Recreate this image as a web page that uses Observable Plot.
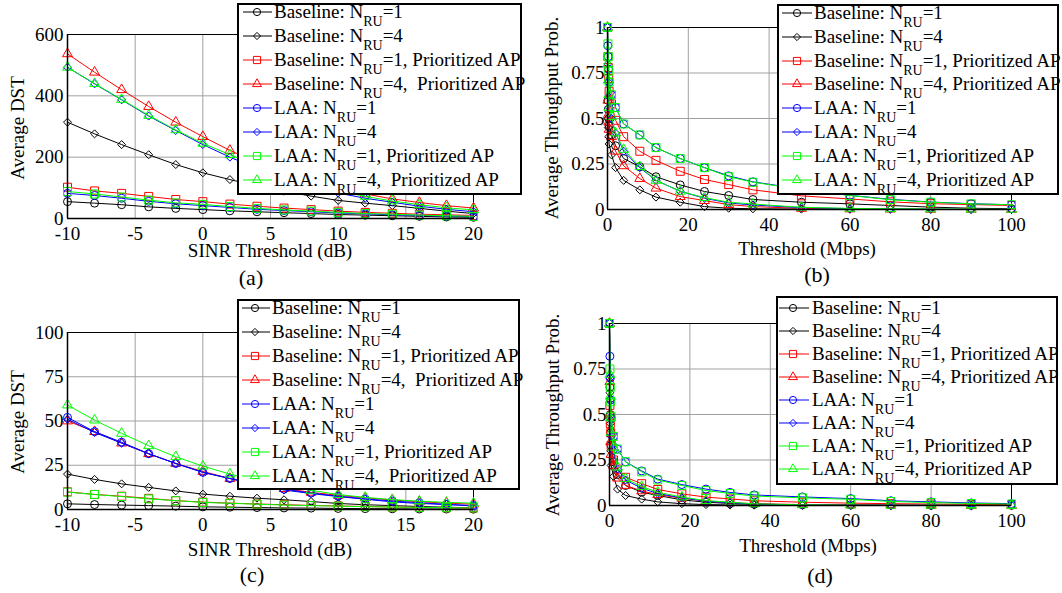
<!DOCTYPE html>
<html><head><meta charset="utf-8">
<script src="https://cdn.jsdelivr.net/npm/d3@7"></script>
<script src="https://cdn.jsdelivr.net/npm/@observablehq/plot@0.6"></script>
<style>
body{margin:0;background:#fff;}
#root{position:relative;width:1062px;height:593px;overflow:hidden;font-family:'Liberation Serif','Times New Roman',serif;color:#000;background:#fff;}
.panel{position:absolute;}
.panel svg text{font-family:'Liberation Serif','Times New Roman',serif !important;font-size:19px !important;fill:#000;}
.lbl{position:absolute;font-size:19px;line-height:1;white-space:nowrap;transform:translate(-50%,-50%);}
.cap{position:absolute;font-size:22px;line-height:1;white-space:nowrap;transform:translate(-50%,-50%);}
.ylbl{position:absolute;font-size:19px;line-height:1;white-space:nowrap;transform:translate(-50%,-50%) rotate(-90deg);}
.legend{position:absolute;background:#fff;border:2px solid #000;box-sizing:border-box;}
.row{position:absolute;left:0;height:24px;width:100%;}
.row svg{position:absolute;top:0;}
.row .t{position:absolute;top:0;line-height:24px;font-size:19px;white-space:pre;}
.sub{font-size:14px;position:relative;top:8px;}
</style>
</head><body>
<div id="root"></div>
<script>
// ---------- data ----------
const xSinr = [-10,-8,-6,-4,-2,0,2,4,6,8,10,12,14,16,18,20];
const xThr = [0,0.1,0.2,0.3,0.4,1,2,4,8,12,18,24,30,36,48,60,70,80,90,100];

const seriesPrefix = ["Baseline: N","Baseline: N","Baseline: N","Baseline: N","LAA: N","LAA: N","LAA: N","LAA: N"];
const suffixAC = ["=1","=4","=1, Prioritized AP","=4,  Prioritized AP","=1","=4","=1, Prioritized AP","=4,  Prioritized AP"];
const suffixBD = ["=1","=4","=1, Prioritized AP","=4, Prioritized AP","=1","=4","=1, Prioritized AP","=4, Prioritized AP"];
const seriesColors = ["#000000","#000000","#ff0000","#ff0000","#0000ff","#0000ff","#00ff00","#00ff00"];
const seriesSymbols = ["circle","diamond2","square","triangle","circle","diamond2","square","triangle"];

// (a) Average DST vs SINR threshold
const aBaseN1  = [55,50,45,38,33,29,25,22,19,16,13,11,9,7,5,4];
const aBaseN4  = [314,276,241,208,176,149,127,106,89,73,59,50,42,33,24,16];
const aBaseN1P = [102,90,82,72,62,55,47,40,34,29,24,20,17,14,12,10];
const aBaseN4P = [537,477,420,365,314,267,222,183,150,122,99,80,64,52,42,34];
const aLaaN1   = [82,75,66,56,48,42,36,30,26,22,18,15,12,10,8,6];
const aLaaN4   = [493,439,387,334,287,241,200,163,132,105,83,66,53,40,30,22];
const aLaaN1P  = [88,80,70,60,51,46,39,33,28,24,20,16,14,11,9,7];
const aLaaN4P  = [493,440,388,336,289,245,208,172,140,113,90,72,57,45,35,28];

// (b) Average throughput prob. vs threshold
const bBaseN1  = [1.0,0.6,0.55,0.5,0.46,0.41,0.35,0.28,0.235,0.18,0.135,0.099,0.077,0.055,0.04,0.031,0.022,0.013,0.007,0.004];
const bBaseN4  = [1.0,0.5,0.45,0.4,0.36,0.3,0.23,0.16,0.108,0.068,0.04,0.016,0.007,0.004,0.002,0.001,0.001,0,0,0];
const bBaseN1P = [1.0,0.84,0.78,0.72,0.65,0.58,0.49,0.40,0.32,0.27,0.21,0.165,0.137,0.108,0.075,0.058,0.042,0.032,0.027,0.022];
const bBaseN4P = [1.0,0.6,0.52,0.48,0.44,0.40,0.32,0.24,0.17,0.117,0.071,0.049,0.027,0.016,0.006,0.003,0.002,0.001,0.001,0];
const bLaaN1   = [1.0,0.9,0.84,0.77,0.7,0.63,0.56,0.47,0.41,0.34,0.28,0.23,0.185,0.152,0.112,0.078,0.056,0.041,0.032,0.026];
const bLaaN4   = [1.0,0.8,0.7,0.62,0.56,0.5,0.42,0.32,0.23,0.16,0.10,0.062,0.036,0.025,0.01,0.005,0.003,0.002,0.001,0.001];
const bLaaN1P  = [1.0,0.91,0.84,0.76,0.7,0.63,0.56,0.47,0.41,0.34,0.28,0.23,0.18,0.15,0.11,0.077,0.054,0.04,0.031,0.026];
const bLaaN4P  = [1.0,0.8,0.71,0.63,0.56,0.51,0.42,0.33,0.235,0.16,0.10,0.065,0.04,0.03,0.012,0.006,0.004,0.003,0.002,0.001];

// (c) Average DST vs SINR threshold
const cBaseN1  = [3.2,2.8,2.5,2.2,1.9,1.5,1.3,1.1,0.9,0.8,0.6,0.5,0.4,0.3,0.3,0.2];
const cBaseN4  = [20,17,14.5,12.5,10.5,8.7,7.5,6.4,5.5,4.5,3.4,2.7,2.2,1.7,1.3,0.9];
const cBaseN1P = [10,8.5,7.5,6.3,5,4.2,3.6,3.1,2.7,2.3,2,1.7,1.4,1.2,1,0.9];
const cBaseN4P = [50,44,37.5,31.5,26,21.5,17.5,14.5,11.8,9.7,8,6.6,5.4,4.4,3.6,3];
const cLaaN1   = [52,44,38,31.5,26,21,17.5,14,11.5,9.3,7.5,6,4.8,3.8,2.9,2.2];
const cLaaN4   = [51,43.5,37.5,31.5,26,21,17.5,14,11,9,7.3,5.8,4.3,3.4,2.8,2];
const cLaaN1P  = [9.8,8.5,7.3,6,5,4,3.5,3,2.5,2.2,1.9,1.6,1.4,1.2,1,0.9];
const cLaaN4P  = [59,50.5,43,36,29.8,24.5,20,16.5,13.5,10.8,8.5,6.8,5.6,4.7,4,3.6];

// (d) Average throughput prob. vs threshold
const dBaseN1  = [1.0,0.65,0.5,0.4,0.33,0.24,0.17,0.11,0.073,0.055,0.031,0.018,0.011,0.007,0.004,0.003,0.002,0.001,0.001,0.001];
const dBaseN4  = [1.0,0.62,0.45,0.3,0.22,0.16,0.09,0.055,0.035,0.02,0.01,0.005,0.003,0.002,0.001,0,0,0,0,0];
const dBaseN1P = [1.0,0.55,0.45,0.4,0.33,0.25,0.2,0.155,0.12,0.088,0.064,0.046,0.036,0.026,0.018,0.013,0.01,0.008,0.006,0.005];
const dBaseN4P = [1.0,0.68,0.5,0.35,0.28,0.22,0.15,0.11,0.08,0.06,0.04,0.025,0.015,0.01,0.005,0.003,0.002,0.001,0.001,0.001];
const dLaaN1   = [1.0,0.82,0.7,0.58,0.48,0.38,0.31,0.24,0.19,0.145,0.115,0.09,0.072,0.058,0.047,0.038,0.026,0.02,0.014,0.01];
const dLaaN4   = [1.0,0.7,0.58,0.47,0.38,0.3,0.2,0.14,0.095,0.066,0.042,0.024,0.015,0.008,0.003,0.002,0.001,0.001,0,0];
const dLaaN1P  = [1.0,0.75,0.65,0.57,0.49,0.38,0.31,0.24,0.185,0.14,0.11,0.082,0.066,0.052,0.042,0.034,0.022,0.016,0.011,0.008];
const dLaaN4P  = [1.0,0.72,0.6,0.48,0.4,0.32,0.21,0.147,0.104,0.073,0.046,0.027,0.018,0.009,0.004,0.002,0.001,0.001,0.001,0];

const sinrTicks = [-10,-5,0,5,10,15,20];
const thrTicks = [0,20,40,60,80,100];
const dstTicksA = [0,200,400,600];
const dstTicksC = [0,25,50,75,100];
const probTicks = [0,0.25,0.5,0.75,1];

// ---------- drawing ----------
const symR = {circle:4, diamond2:3.6, square:4.5, triangle:3.7};
const d3Sym = {circle:d3.symbolCircle, diamond2:d3.symbolDiamond2, square:d3.symbolSquare, triangle:d3.symbolTriangle};
const root = document.getElementById("root");

function panel(cfg) {
  const marks = [
    Plot.ruleX(cfg.xTicks, {stroke:"#a0a0a0", strokeWidth:1}),
    Plot.ruleY(cfg.yTicks, {stroke:"#a0a0a0", strokeWidth:1}),
    Plot.frame({stroke:"#000", strokeWidth:1})
  ];
  cfg.series.forEach((vals, i) => {
    const rows = cfg.xs.map((x, j) => ({x, y: vals[j]}));
    const col = seriesColors[i], sym = seriesSymbols[i];
    marks.push(Plot.line(rows, {x:"x", y:"y", stroke:col, strokeWidth:1}));
    marks.push(Plot.dot(rows, {x:"x", y:"y", stroke:col, fill:"none", strokeWidth:1, symbol:sym, r:symR[sym]}));
  });
  marks.push(Plot.ruleX([cfg.xDomain[0]], {stroke:"#000", strokeWidth:1.5}));
  marks.push(Plot.ruleY([cfg.yDomain[0]], {stroke:"#000", strokeWidth:1.5}));
  const svg = Plot.plot({
    width: cfg.w, height: cfg.h,
    marginLeft: cfg.ml, marginRight: cfg.mr, marginTop: cfg.mt, marginBottom: cfg.mb,
    style: {background:"transparent", fontFamily:"'Liberation Serif',serif", fontSize:"19px", color:"#000", overflow:"visible"},
    x: {domain: cfg.xDomain, ticks: cfg.xTicks, tickFormat: d => String(d), tickSize: 0, tickPadding: 8, label: null},
    y: {domain: cfg.yDomain, ticks: cfg.yTicks, tickFormat: d => String(d), tickSize: 0, tickPadding: cfg.yPad, label: null},
    marks
  });
  const wrap = document.createElement("div");
  wrap.className = "panel";
  wrap.style.left = cfg.left + "px";
  wrap.style.top = cfg.top + "px";
  wrap.appendChild(svg);
  root.appendChild(wrap);
}

function text(cls, str, x, y) {
  const d = document.createElement("div");
  d.className = cls;
  d.textContent = str;
  d.style.left = x + "px";
  d.style.top = y + "px";
  root.appendChild(d);
}

function legend(cfg) {
  const box = document.createElement("div");
  box.className = "legend";
  box.style.left = cfg.left + "px";
  box.style.top = cfg.top + "px";
  box.style.width = (cfg.right - cfg.left) + "px";
  box.style.height = (cfg.bottom - cfg.top) + "px";
  const ox = cfg.left + 2, oy = cfg.top + 2;
  for (let i = 0; i < 8; i++) {
    const row = document.createElement("div");
    row.className = "row";
    row.style.top = (cfg.row0 + cfg.step * i - 12 - oy) + "px";
    const sx0 = cfg.lineX0 - 4;
    const w = cfg.lineX1 - cfg.lineX0 + 8;
    const svg = d3.create("svg").attr("width", w).attr("height", 24)
      .style("left", (sx0 - ox) + "px");
    svg.append("line").attr("x1", 4).attr("x2", w - 4).attr("y1", 12).attr("y2", 12)
      .attr("stroke", seriesColors[i]).attr("stroke-width", 1);
    const sym = seriesSymbols[i];
    const r = symR[sym] * 0.9;
    svg.append("path").attr("d", d3.symbol(d3Sym[sym], Math.PI * r * r)())
      .attr("transform", `translate(${cfg.markX - sx0},12)`)
      .attr("fill", "none").attr("stroke", seriesColors[i]).attr("stroke-width", 1);
    row.appendChild(svg.node());
    const t = document.createElement("span");
    t.className = "t";
    t.style.left = (cfg.textX - ox) + "px";
    const a = document.createTextNode(seriesPrefix[i]);
    const s = document.createElement("span"); s.className = "sub"; s.textContent = "RU";
    const b = document.createTextNode(cfg.suffix[i]);
    t.appendChild(a); t.appendChild(s); t.appendChild(b);
    row.appendChild(t);
    box.appendChild(row);
  }
  root.appendChild(box);
}

// (a)
panel({left:0, top:0, w:530, h:290, ml:67, mr:57, mt:34, mb:72, yPad:4,
  xs:xSinr, xDomain:[-10,20], xTicks:sinrTicks, yDomain:[0,600], yTicks:dstTicksA,
  series:[aBaseN1,aBaseN4,aBaseN1P,aBaseN4P,aLaaN1,aLaaN4,aLaaN1P,aLaaN4P]});
// (b)
panel({left:530, top:0, w:532, h:290, ml:77, mr:51, mt:27, mb:81, yPad:3,
  xs:xThr, xDomain:[0,100], xTicks:thrTicks, yDomain:[0,1], yTicks:probTicks,
  series:[bBaseN1,bBaseN4,bBaseN1P,bBaseN4P,bLaaN1,bLaaN4,bLaaN1P,bLaaN4P]});
// (c)
panel({left:0, top:290, w:530, h:303, ml:67, mr:57, mt:42, mb:84, yPad:4,
  xs:xSinr, xDomain:[-10,20], xTicks:sinrTicks, yDomain:[0,100], yTicks:dstTicksC,
  series:[cBaseN1,cBaseN4,cBaseN1P,cBaseN4P,cLaaN1,cLaaN4,cLaaN1P,cLaaN4P]});
// (d)
panel({left:530, top:290, w:532, h:303, ml:79, mr:51, mt:33, mb:88, yPad:3,
  xs:xThr, xDomain:[0,100], xTicks:thrTicks, yDomain:[0,1], yTicks:probTicks,
  series:[dBaseN1,dBaseN4,dBaseN1P,dBaseN4P,dLaaN1,dLaaN4,dLaaN1P,dLaaN4P]});

text("ylbl", "Average DST", 17, 128);
text("lbl", "SINR Threshold (dB)", 270, 250);
text("cap", "(a)", 251, 278);
text("ylbl", "Average Throughput Prob.", 551, 118);
text("lbl", "Threshold (Mbps)", 807, 248);
text("cap", "(b)", 817, 275);
text("ylbl", "Average DST", 17, 422);
text("lbl", "SINR Threshold (dB)", 270, 549);
text("cap", "(c)", 252, 575);
text("ylbl", "Average Throughput Prob.", 552, 415);
text("lbl", "Threshold (Mbps)", 808, 545);
text("cap", "(d)", 820, 576);

legend({left:237, top:3, right:522, bottom:195, lineX0:243, lineX1:272, markX:257, textX:274, row0:12, step:24, suffix:suffixAC});
legend({left:777, top:4, right:1059, bottom:195, lineX0:782, lineX1:812, markX:797, textX:814, row0:13, step:23.8, suffix:suffixBD});
legend({left:237, top:299, right:520, bottom:490, lineX0:242, lineX1:270, markX:255, textX:272, row0:307.5, step:24, suffix:suffixAC});
legend({left:776, top:296, right:1058, bottom:485, lineX0:779, lineX1:809, markX:793, textX:812, row0:307.5, step:23.1, suffix:suffixBD});
</script>
</body></html>
